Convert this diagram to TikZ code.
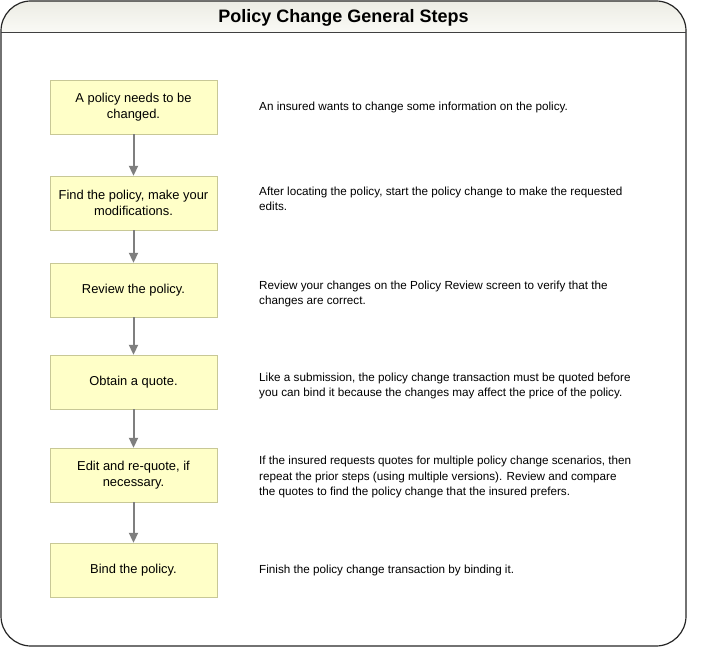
\documentclass[tikz,border=0pt]{standalone}
\usepackage{fontspec}
\setmainfont{Liberation Sans}
\usetikzlibrary{arrows.meta}
\definecolor{boxfill}{HTML}{FFFFC8}
\definecolor{boxline}{HTML}{C8C896}
\definecolor{arrowgray}{HTML}{7F7F7F}
\definecolor{bandtop}{HTML}{ECECE4}
\definecolor{bandbottom}{HTML}{FAFAF6}

\begin{document}
\begin{tikzpicture}[x=1pt, y=-1pt, stepbox/.style={draw=boxline, fill=boxfill, minimum width=167pt, minimum height=54pt, inner sep=0pt, align=center, font=\fontsize{12.9}{16}\selectfont}, note/.style={anchor=west, inner sep=0pt, align=left, font=\fontsize{11.7}{15.5}\selectfont}, n/.style={-{Triangle[length=10pt, width=9pt]}, line width=2pt, draw=arrowgray, fill=arrowgray}]
        \useasboundingbox (0,0) rectangle (704,660);
        % frame and title band
        \begin{scope}
            \clip[rounded corners=30pt] (1,1) rectangle (686,646);
            \shade[top color=bandtop, bottom color=bandbottom] (1,1) rectangle (686,33);
        \end{scope}
        \draw[line width=1.2pt, black!85, rounded corners=30pt] (1,1) rectangle (686,646);
        \draw[line width=1pt, black!75] (1,33) -- (686,33);
        \node[font=\bfseries\fontsize{18}{20}\selectfont] (title) at (343.5,18) {Policy Change General Steps};
        % nodes
        \node[stepbox] (need) at (133.5,107) {A policy needs to be\\changed.};
        \node[stepbox] (find) at (133.5,203) {Find the policy, make your\\modifications.};
        \node[stepbox] (review) at (133.5,290) {Review the policy.};
        \node[stepbox] (quote) at (133.5,382) {Obtain a quote.};
        \node[stepbox] (requote) at (133.5,475) {Edit and re-quote, if\\necessary.};
        \node[stepbox] (bind) at (133.5,570) {Bind the policy.};
        % descriptions
        \node[note] (needtxt) at (259,107) {An insured wants to change some information on the policy.};
        \node[note] (findtxt) at (259,199) {After locating the policy, start the policy change to make the requested\\edits.};
        \node[note] (reviewtxt) at (259,294) {Review your changes on the Policy Review screen to verify that the\\changes are correct.};
        \node[note] (quotetxt) at (259,386) {Like a submission, the policy change transaction must be quoted before\\you can bind it because the changes may affect the price of the policy.};
        \node[note] (requotetxt) at (259,477) {If the insured requests quotes for multiple policy change scenarios, then\\repeat the prior steps (using multiple versions). Review and compare\\the quotes to find the policy change that the insured prefers.};
        \node[note] (bindtxt) at (259,570) {Finish the policy change transaction by binding it.};
        % edges
        \draw[n] (need) -- (find);
        \draw[n] (find) -- (review);
        \draw[n] (review) -- (quote);
        \draw[n] (quote) -- (requote);
        \draw[n] (requote) -- (bind);
    \end{tikzpicture}
\end{document}
